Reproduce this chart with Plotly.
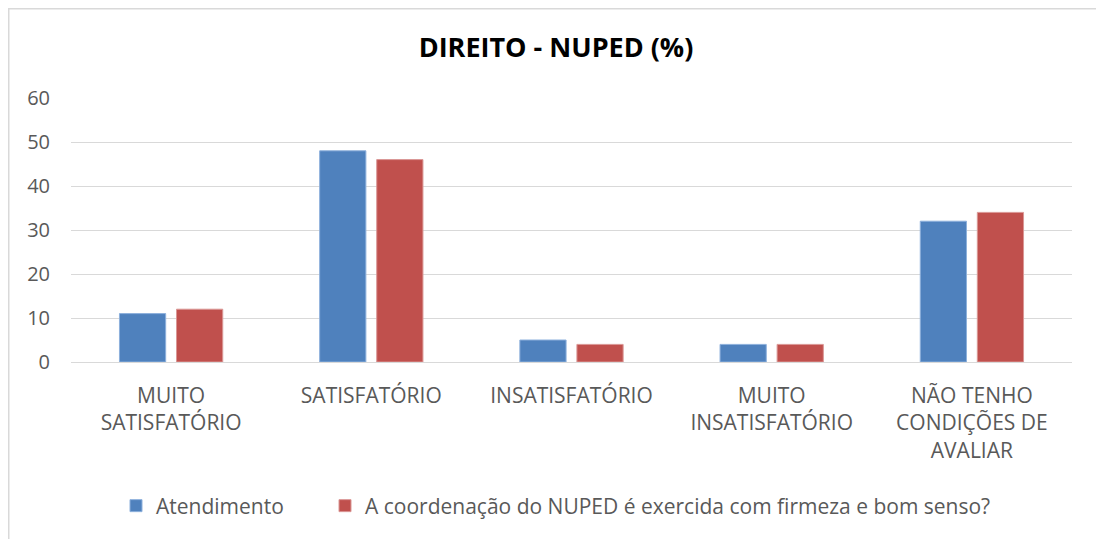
import plotly.graph_objects as go

categories = ["MUITO<br>SATISFATÓRIO", "SATISFATÓRIO", "INSATISFATÓRIO",
              "MUITO<br>INSATISFATÓRIO", "NÃO TENHO<br>CONDIÇÕES DE<br>AVALIAR"]
atendimento = [11, 48, 5, 4, 32]
coordenacao = [12, 46, 4, 4, 34]
series_names = ["Atendimento", "A coordenação do NUPED é exercida com firmeza e bom senso?"]
y_ticks = [0, 10, 20, 30, 40, 50, 60]
title = "DIREITO - NUPED (%)"

FONT = "Open Sans, Lato, sans-serif"
GREY = "#595959"

# figure is offset by the 8px page body margin
W, H = 1096, 531
L, R, T, B = 63, 32, 90, 177
pw, ph = W - L - R, H - T - B


def px_x(x):
    return (x - L) / pw


def px_y(y):
    return (H - B - y) / ph


fig = go.Figure()
fig.add_trace(go.Bar(x=categories, y=atendimento, name=series_names[0], legend="legend",
                     marker=dict(color="#4F81BD", line=dict(color="#8DB0DC", width=1))))
fig.add_trace(go.Bar(x=categories, y=coordenacao, name=series_names[1], legend="legend2",
                     marker=dict(color="#C0504D", line=dict(color="#DA9795", width=1))))

leg_common = dict(orientation="h", xanchor="left", yanchor="middle", y=px_y(498),
                  font=dict(family=FONT, size=21, color=GREY), itemwidth=30,
                  bgcolor="rgba(0,0,0,0)")

fig.update_layout(
    width=W, height=H,
    margin=dict(l=L, r=R, t=T, b=B),
    paper_bgcolor="white", plot_bgcolor="white",
    font=dict(family=FONT, size=21, color=GREY),
    title=dict(text="<b>" + title + "</b>", x=0.5, xanchor="center",
               y=1 - 40 / H, yanchor="middle",
               font=dict(family=FONT, size=27, color="#000000")),
    barmode="group", bargap=0.43, bargroupgap=0.19,
    showlegend=True,
    legend=dict(x=px_x(108), **leg_common),
    legend2=dict(x=px_x(317), **leg_common),
    xaxis=dict(showline=False, ticks="", tickfont=dict(size=21, color=GREY),
               ticklabelstandoff=19),
    yaxis=dict(range=[0, 60], tickvals=y_ticks, showgrid=True, gridcolor="#D9D9D9",
               gridwidth=1, zeroline=True, zerolinecolor="#D9D9D9", zerolinewidth=1,
               ticks="", tickfont=dict(size=20, color=GREY), ticklabelstandoff=20),
    shapes=[dict(type="rect", xref="paper", yref="paper", x0=px_x(0.75), x1=px_x(1093),
                 y0=px_y(H + 20), y1=px_y(0.75), line=dict(color="#D9D9D9", width=1.5),
                 fillcolor="rgba(0,0,0,0)", layer="below")],
)

fig.write_html("out.html")
